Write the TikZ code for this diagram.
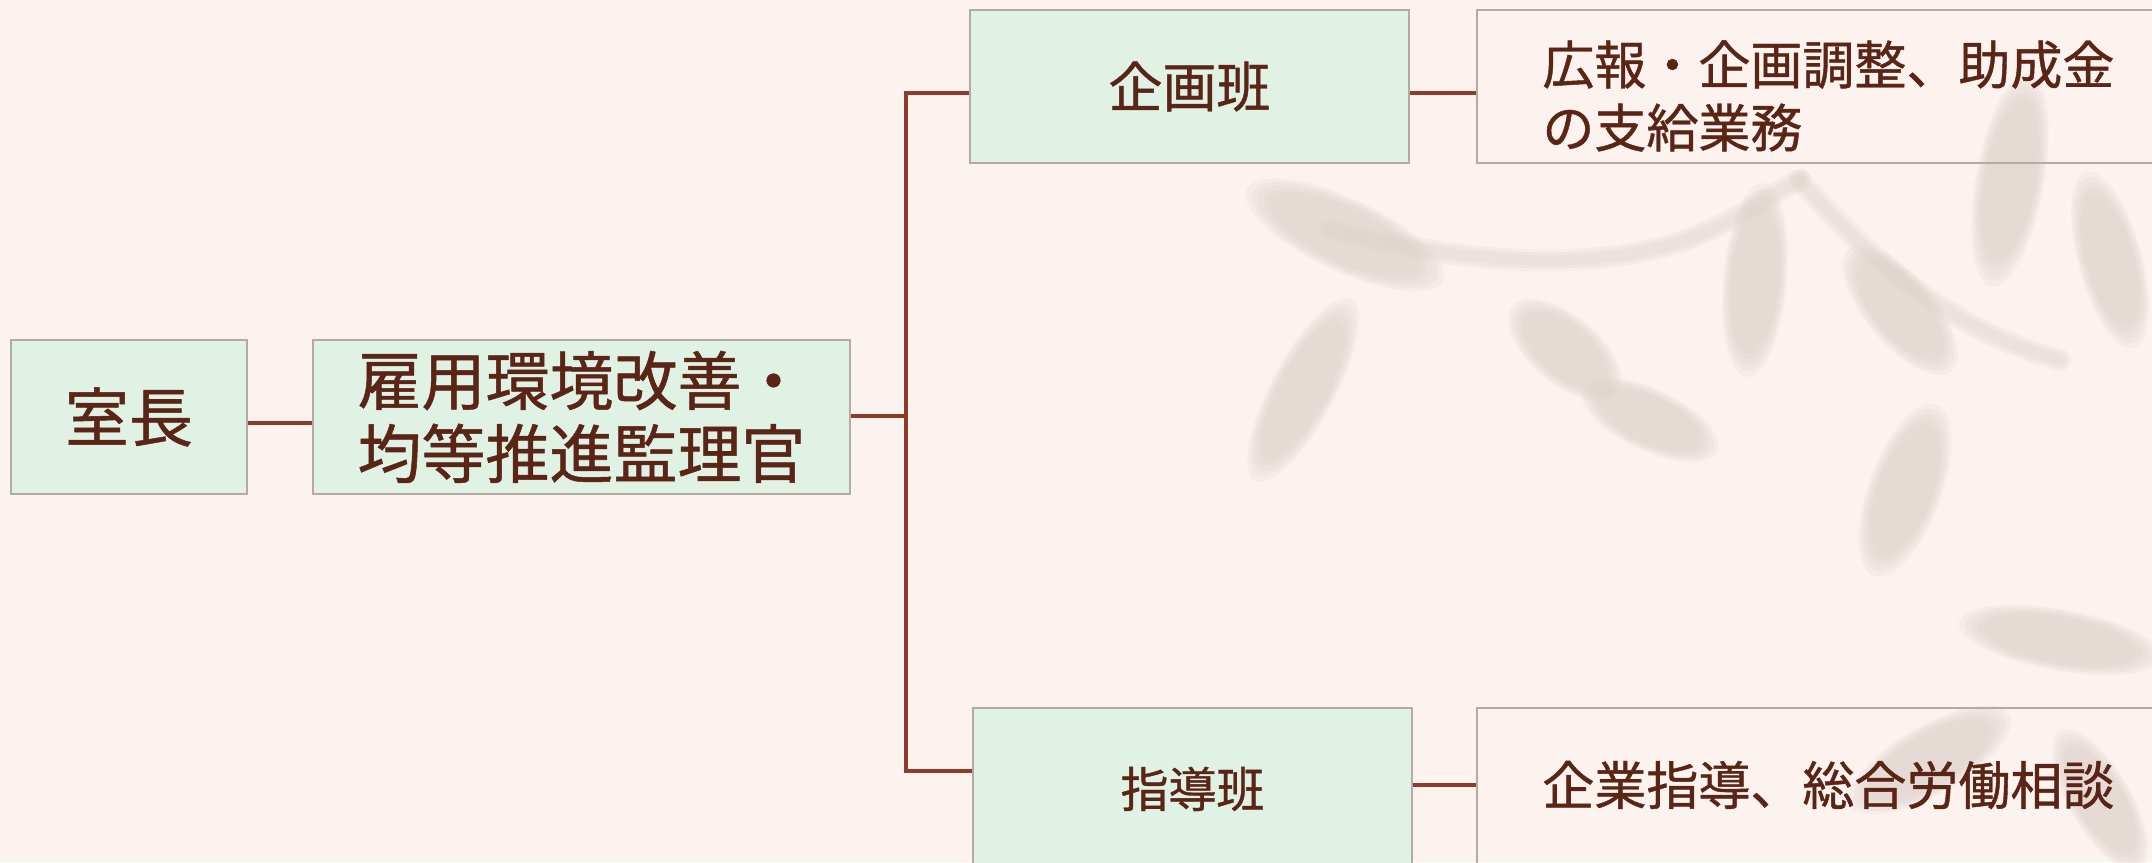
\documentclass[tikz,border=0pt]{standalone}
\usepackage{fontspec}
\newfontfamily\jp[FakeBold=0.8]{Noto Sans CJK JP}
\definecolor{bg}{HTML}{FCF3EE}
\definecolor{boxg}{HTML}{E0F2E4}
\definecolor{bordc}{HTML}{B3ABA4}
\definecolor{txt}{HTML}{5A2416}
\definecolor{connc}{HTML}{8F3B2B}
\definecolor{leafc}{HTML}{DDD1CB}
\newcommand\softleaf[5]{%
  \foreach \sc in {1.14,1.07,1.0,0.93,0.86}{%
    \fill[leafc, opacity=0.2, rotate around={#3:(#1,#2)}] (#1,#2) ellipse [x radius=\sc*#4, y radius=\sc*#5];}}
\begin{document}
\begin{tikzpicture}[x=0.5pt,y=-0.5pt,
  orgbox/.style={draw=bordc, line width=1.2pt, fill=boxg, text=txt, inner sep=0pt},
  descbox/.style={draw=bordc, line width=1.2pt, inner sep=0pt},
  desctext/.style={text=txt, inner sep=0pt, anchor=west, align=left, font=\jp\fontsize{26}{31.5}\selectfont},
  conn/.style={draw=connc, line width=1.6pt}]
\useasboundingbox[fill=bg] (0,0) rectangle (2152,862);
% faint leaf shadows
\foreach \lw in {11,8,5}{%
\draw[leafc, opacity=0.2, line width=\lw pt, line cap=round] (1330,230) .. controls (1450,260) and (1560,270) .. (1650,250) .. controls (1720,235) and (1760,200) .. (1800,180);
\draw[leafc, opacity=0.2, line width=\lw pt, line cap=round] (1800,180) .. controls (1870,260) and (1950,330) .. (2060,360);}
\softleaf{1345}{235}{-25}{95}{32}
\softleaf{1303}{390}{62}{90}{28}
\softleaf{1565}{350}{-40}{60}{30}
\softleaf{1650}{420}{-25}{65}{27}
\softleaf{1755}{280}{85}{85}{28}
\softleaf{1900}{310}{-50}{70}{30}
\softleaf{2010}{180}{80}{95}{30}
\softleaf{1905}{490}{70}{80}{32}
\softleaf{2110}{260}{-75}{80}{28}
\softleaf{2060}{640}{-10}{90}{27}
\softleaf{1930}{760}{30}{80}{30}
\softleaf{2100}{800}{-60}{70}{27}
% nodes
\node[orgbox, minimum width=118pt, minimum height=77pt, font=\jp\fontsize{32}{36}\selectfont] (shitsu) at (129,417) {室長};
\node[orgbox, minimum width=268.5pt, minimum height=77pt, align=center, font=\jp\fontsize{32}{36.5}\selectfont] (koyou) at (581.5,417) {雇用環境改善・\\均等推進監理官};
\node[orgbox, minimum width=219.5pt, minimum height=76.5pt, font=\jp\fontsize{27}{32}\selectfont] (kikaku) at (1189.5,86.5) {企画班};
\node[orgbox, minimum width=219.5pt, minimum height=81pt, font=\jp\fontsize{24}{28}\selectfont] (shidou) at (1192.5,789) {\raisebox{2pt}{指導班}};
\node[descbox, minimum width=361.5pt, minimum height=76.5pt] (d1) at (1838.5,86.5) {};
\node[desctext] (d1t) at (1542,96) {広報・企画調整、助成金\\の支給業務};
\node[descbox, minimum width=361.5pt, minimum height=81pt] (d2) at (1838.5,789) {};
\node[desctext] (d2t) at (1542,785) {企業指導、総合労働相談};
% connectors
\coordinate (jn) at (906,416);
\coordinate (top) at (906,93);
\coordinate (bot) at (906,771);
\coordinate (low) at (0,785);
\draw[conn] ([yshift=-3pt]shitsu.east) -- ([yshift=-3pt]koyou.west);
\draw[conn] (koyou.east |- jn) -- (jn);
\draw[conn] (top -| kikaku.west) -- (top) -- (bot) -- (bot -| shidou.west);
\draw[conn] (kikaku.east |- top) -- (d1.west |- top);
\draw[conn] (shidou.east |- low) -- (d2.west |- low);
\end{tikzpicture}
\end{document}
